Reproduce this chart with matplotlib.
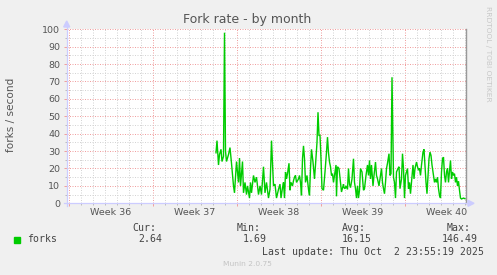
import matplotlib
matplotlib.use("Agg")
import matplotlib.pyplot as plt
from matplotlib.ticker import MultipleLocator
from matplotlib.patches import Rectangle, Polygon
from matplotlib.lines import Line2D
from matplotlib.transforms import blended_transform_factory

# ---------------- data ----------------
title = "Fork rate - by month"
ylabel = "forks / second"
side_text = "RRDTOOL / TOBI OETIKER"
footer = "Munin 2.0.75"
series_name = "forks"
week_labels = ["Week 36", "Week 37", "Week 38", "Week 39", "Week 40"]
week_starts = [0, 168, 336, 504, 672]          # hours since start of Week 36
stat_names = ["Cur:", "Min:", "Avg:", "Max:"]
stat_values = ["2.64", "1.69", "16.15", "146.49"]
last_update = "Last update: Thu Oct  2 23:55:19 2025"

hours = [294, 296, 299, 301, 304, 306, 309, 311, 313, 315, 319, 322, 325, 329, 331,
         334, 335, 339, 341, 343, 347, 349, 352, 355, 357, 361, 363, 365, 369, 372,
         375, 379, 382, 385, 389, 392, 395, 399, 402, 405, 409, 412, 415, 419, 422,
         424, 427, 429, 431, 433, 435, 437, 440, 442, 444, 447, 449, 451, 453, 455,
         459, 461, 463, 465, 467, 469, 471, 473, 476, 479, 481, 483, 485, 488, 491,
         493, 496, 498, 500, 502, 504, 506, 509, 512, 515, 517, 519, 521, 523, 525,
         527, 529, 532, 534, 535, 537, 540, 543, 545, 549, 550, 552, 554, 557, 559,
         561, 563, 566, 569, 571, 573, 575, 577, 579, 581, 583, 586, 589, 591, 594,
         597, 599, 601, 603, 605, 608, 610, 613, 615, 617, 620, 622, 625, 627, 629,
         631, 633, 635, 637, 640, 642, 644, 646, 649, 651, 653, 655, 658, 660, 662,
         665, 667, 669, 671, 673, 675, 677, 679, 681, 683, 685, 688, 690, 692, 695,
         697, 699, 701, 703, 705, 708, 710, 712, 714, 716, 718, 720, 722, 724, 726,
         729, 731, 733, 735, 737, 739, 741, 743, 745, 747, 749, 751, 753, 755, 757,
         759, 761, 763, 765, 767, 769, 771, 773, 775, 777, 779, 781, 783, 785, 789,
         792]
forks = [29, 36, 22, 28, 31, 24, 27, 98, 30, 24, 28, 32, 23, 10, 6,
         20, 24, 12, 26, 10, 24, 6, 12, 5, 10, 3, 12, 6, 16, 12,
         15, 5, 10, 5, 21, 6, 12, 3, 8, 36, 10, 11, 3, 8, 11,
         3, 9, 12, 3, 18, 14, 17, 23, 7.5, 12, 10, 13, 15, 16, 12,
         14, 16, 12, 4.6, 25.6, 33, 25.6, 12, 16, 8, 4.6, 20, 31, 23.7, 14,
         22, 35, 52.3, 39, 39, 25.6, 8.4, 7.5, 18, 29.4, 38, 29, 23.7, 21, 16,
         17, 12, 18, 22, 4, 21, 20, 12, 6.5, 11, 9, 8.4, 10, 8, 20,
         11, 9, 14, 25.6, 12, 8.4, 3, 10, 3, 7.5, 20, 18, 7.5, 8.4, 16,
         22, 16, 24.6, 14, 22, 10, 16, 23.7, 16, 14, 10, 14, 20, 12, 8.4,
         5.5, 12, 20, 23, 28.5, 16, 17, 72.4, 15, 12, 3, 18, 20, 21, 8.4,
         14, 28.5, 20, 3, 16, 18, 20, 8.4, 12, 5.5, 12, 22, 14, 20, 23.7,
         21, 19, 20, 16, 22, 29.4, 31, 22, 12, 5.5, 16, 25.6, 29.4, 27.5, 22,
         16, 12, 14, 12, 15, 8.4, 4.6, 3, 18, 25.6, 26.5, 16, 12, 18, 20,
         12, 18, 24.6, 14, 18, 16, 17, 12, 15, 10, 12.7, 7.5, 3, 2.5, 3,
         2.64]

# ---------------- style ----------------
W, H = 497, 275
BG = "#f0f0f0"
TXT = "#555555"
MGRID = "#f0a0a0"
GRID = "#d4d4d4"
AXIS = "#ccccff"
GREEN = "#00cc00"

fig = plt.figure(figsize=(W / 100, H / 100), dpi=100, facecolor=BG)

x_left, x_right, y_top, y_bot = 66.7, 465.7, 29.2, 203.3
ax = fig.add_axes([x_left / W, 1 - y_bot / H, (x_right - x_left) / W, (y_bot - y_top) / H])
ax.set_facecolor("white")
for s in ax.spines.values():
    s.set_visible(False)

xmin = (x_left - 69) * 2
xmax = (x_right - 69) * 2
ax.set_xlim(xmin, xmax)
ax.set_ylim(0, 100)

ax.xaxis.set_major_locator(MultipleLocator(168))
ax.xaxis.set_minor_locator(MultipleLocator(24))
ax.yaxis.set_major_locator(MultipleLocator(10))
ax.yaxis.set_minor_locator(MultipleLocator(5))

dots = (0, (1, 1.5))
ax.grid(which="major", color=MGRID, linestyle=dots, linewidth=0.72)
ax.grid(which="minor", color=GRID, linestyle=dots, linewidth=0.72)
ax.set_axisbelow(True)

ax.tick_params(axis="both", which="major", direction="out", length=2.2, width=0.72,
               color=MGRID)
ax.tick_params(axis="both", which="minor", direction="out", length=1.5, width=0.72,
               color="#bbbbbb")
ax.tick_params(axis="y", which="major", pad=2.6, labelsize=6.8, labelcolor=TXT)
ax.tick_params(axis="x", which="both", labelbottom=False)

ax.plot(hours, forks, color=GREEN, linewidth=1.0, solid_joinstyle="miter", zorder=3)

# "now" rule at right edge
ax.axvline(xmax, color="#999999", linewidth=1.0, clip_on=False, zorder=4)

# week labels (centered in each week)
tr = blended_transform_factory(ax.transData, fig.transFigure)
for ws, lab in zip(week_starts, week_labels):
    ax.text(ws + 84, 1 - 212.3 / H, lab, transform=tr, ha="center", va="center",
            fontsize=6.8, color=TXT, clip_on=False)

# axis lines with arrows (rrdtool style)
def fx(x):
    return x / W

def fy(y):
    return 1 - y / H

fig.add_artist(Line2D([fx(x_left), fx(x_left)], [fy(206), fy(25)], color=AXIS, lw=0.9))
fig.add_artist(Line2D([fx(63.5), fx(469)], [fy(y_bot), fy(y_bot)], color=AXIS, lw=0.9))
fig.add_artist(Polygon([[fx(x_left), fy(21)], [fx(x_left - 3), fy(27)], [fx(x_left + 3), fy(27)]],
                       closed=True, color=AXIS, transform=fig.transFigure))
fig.add_artist(Polygon([[fx(474), fy(y_bot)], [fx(468), fy(y_bot - 3)], [fx(468), fy(y_bot + 3)]],
                       closed=True, color=AXIS, transform=fig.transFigure))

# texts
fig.text(fx(247.5), fy(19), title, ha="center", va="center", fontsize=9, color=TXT)
fig.text(fx(11), fy(115), ylabel, ha="center", va="center", rotation=90, fontsize=7.6, color=TXT)
fig.text(fx(488), fy(53.5), side_text, ha="center", va="center", rotation=270,
         fontsize=5.4, color="#c8c8c8")
fig.text(fx(247.5), fy(264), footer, ha="center", va="center", fontsize=5.4, color="#c4c4c4")

mono = "DejaVu Sans Mono"
name_x = [132, 237, 342, 447]
val_x = [138, 243, 342, 442]
for x, s in zip(name_x, stat_names):
    fig.text(fx(x), fy(227.7), s, ha="left", va="center", fontsize=7.1, family=mono, color="#444444")
for x, s in zip(val_x, stat_values):
    fig.text(fx(x), fy(239.3), s, ha="left", va="center", fontsize=7.1, family=mono, color="#444444")
fig.text(fx(27), fy(239.3), series_name, ha="left", va="center", fontsize=7.1, family=mono, color="#444444")
fig.add_artist(Rectangle((fx(14), fy(242.5)), 6 / W, 6 / H, color=GREEN, transform=fig.transFigure))
fig.text(fx(262), fy(251.7), last_update, ha="left", va="center", fontsize=7.1, family=mono, color="#444444")

fig.savefig("out.png", dpi=100, facecolor=BG)
